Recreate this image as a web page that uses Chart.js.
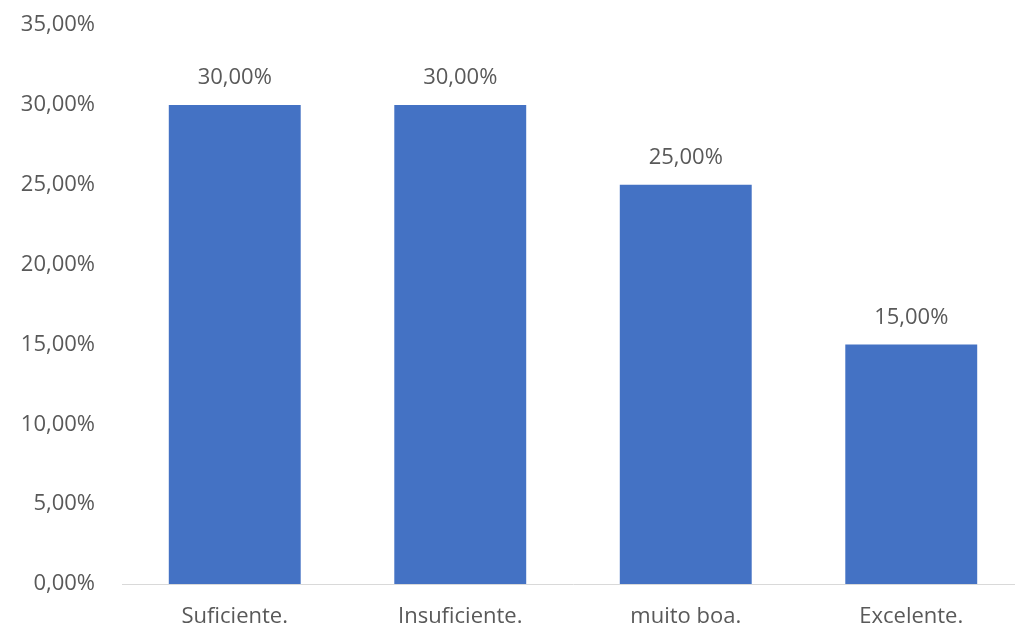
<!DOCTYPE html>
<html>
<head>
<meta charset="utf-8">
<script src="https://cdn.jsdelivr.net/npm/chart.js@4/dist/chart.umd.min.js"></script>
<style>
  html, body { margin:0; padding:0; background:#fff; overflow:hidden; }
  #wrap { width:1024px; height:636px; margin-top:-7px; }
</style>
</head>
<body>
<div id="wrap"><canvas id="chart" width="1024" height="636"></canvas></div>
<script>
// chart data
const categories = ['Suficiente.', 'Insuficiente.', 'muito boa.', 'Excelente.'];
const values = [30, 30, 25, 15];
const yTicks = [0, 5, 10, 15, 20, 25, 30, 35];

const FONT = '"Open Sans", "Noto Sans", sans-serif';
const TEXT = '#595959';
const pct = v => v.toFixed(2).replace('.', ',') + '%';

// draws the value above each bar
const valueLabels = {
  id: 'valueLabels',
  afterDatasetsDraw(chart){
    const ctx = chart.ctx;
    const meta = chart.getDatasetMeta(0);
    ctx.save();
    ctx.font = '22px ' + FONT;
    ctx.fillStyle = TEXT;
    ctx.textAlign = 'center';
    ctx.textBaseline = 'alphabetic';
    meta.data.forEach((bar, i)=>{
      ctx.fillText(pct(values[i]), bar.x, bar.y - 21);
    });
    ctx.restore();
  }
};

new Chart(document.getElementById('chart').getContext('2d'), {
  type: 'bar',
  data: {
    labels: categories,
    datasets: [{ data: values, backgroundColor:'#4472C4', barPercentage:0.585, categoryPercentage:1 }]
  },
  options: {
    responsive: false,
    animation: false,
    layout: { padding: { top: 1, left: 0, right: 0, bottom: 0 } },
    plugins: { legend: { display:false }, tooltip: { enabled:false } },
    scales: {
      x: {
        grid: { display:false },
        border: { display:true, color:'#d9d9d9', width:1 },
        ticks: { color:TEXT, font:{ family:FONT, size:22 }, padding:12, maxRotation:0 },
        afterFit: s => { s.height = 45; }
      },
      y: {
        min: 0, max: 35,
        afterBuildTicks: s => { s.ticks = yTicks.map(v => ({ value:v })); },
        grid: { display:false },
        border: { display:false },
        ticks: { color:TEXT, font:{ family:FONT, size:22 }, padding:19, callback: v => pct(v) },
        afterFit: s => { s.width = 122; }
      }
    }
  },
  plugins: [valueLabels]
});
</script>
</body>
</html>
